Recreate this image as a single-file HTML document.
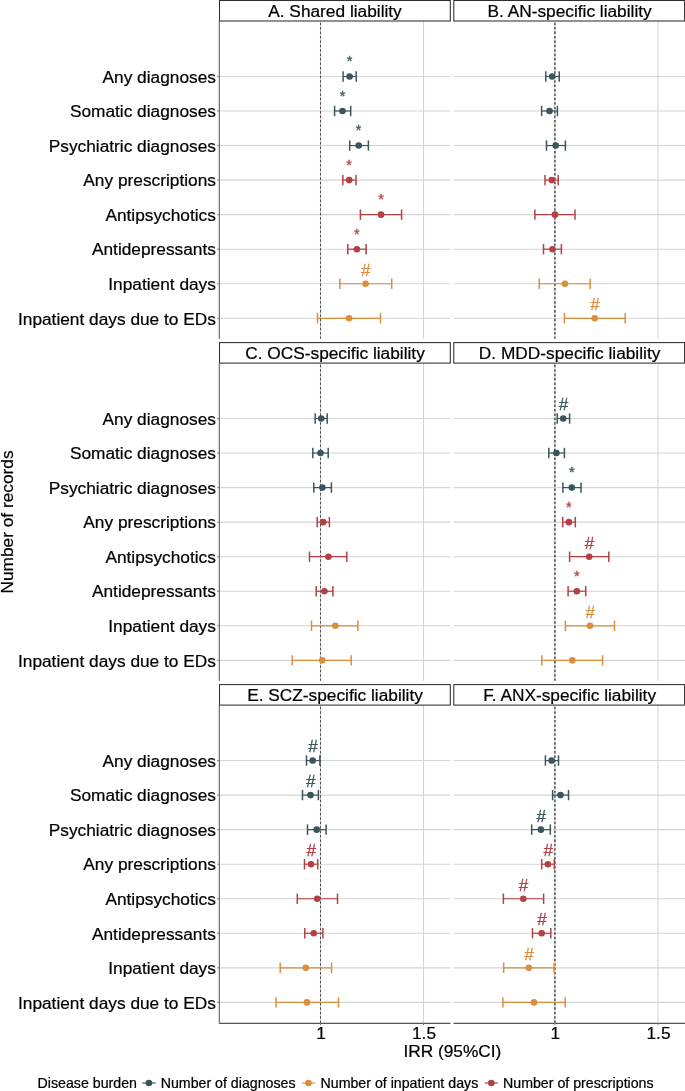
<!DOCTYPE html>
<html lang="en"><head><meta charset="utf-8"><title>Forest plot</title>
<style>html,body{margin:0;padding:0;background:#fff}svg{display:block;will-change:transform}text{font-family:"Liberation Sans",sans-serif;fill:#000;stroke:#000;stroke-width:0.22px}text.a{stroke-width:0.3px}</style></head><body>
<svg width="685" height="1091" viewBox="0 0 685 1091">
<rect width="685" height="1091" fill="#fff"/>
<g>
<line x1="219.3" x2="450.6" y1="76.45" y2="76.45" stroke="#d5d5d5" stroke-width="1.1"/>
<line x1="219.3" x2="450.6" y1="111.00" y2="111.00" stroke="#d5d5d5" stroke-width="1.1"/>
<line x1="219.3" x2="450.6" y1="145.55" y2="145.55" stroke="#d5d5d5" stroke-width="1.1"/>
<line x1="219.3" x2="450.6" y1="180.10" y2="180.10" stroke="#d5d5d5" stroke-width="1.1"/>
<line x1="219.3" x2="450.6" y1="214.65" y2="214.65" stroke="#d5d5d5" stroke-width="1.1"/>
<line x1="219.3" x2="450.6" y1="249.20" y2="249.20" stroke="#d5d5d5" stroke-width="1.1"/>
<line x1="219.3" x2="450.6" y1="283.75" y2="283.75" stroke="#d5d5d5" stroke-width="1.1"/>
<line x1="219.3" x2="450.6" y1="318.30" y2="318.30" stroke="#d5d5d5" stroke-width="1.1"/>
<line x1="423.5" x2="423.5" y1="21.2" y2="338.7" stroke="#d5d5d5" stroke-width="1.1"/>
<line x1="320.5" x2="320.5" y1="21.2" y2="338.7" stroke="#d5d5d5" stroke-width="1.1"/>
<line x1="320.5" x2="320.5" y1="22.7" y2="338.7" stroke="#454545" stroke-width="0.95" stroke-dasharray="2.5 1.92"/>
<g stroke="#3a565c" fill="#3a565c"><line x1="343.1" x2="356.2" y1="76.45" y2="76.45" stroke-width="1.2"/><line x1="343.1" x2="343.1" y1="71.25" y2="81.65" stroke-width="1.5"/><line x1="356.2" x2="356.2" y1="71.25" y2="81.65" stroke-width="1.5"/><circle cx="349.6" cy="76.45" r="3.3" stroke="none"/></g>
<text x="349.6" y="66.05" text-anchor="middle" font-size="14.5" class="a" style="fill:#3a565c;stroke:#3a565c">*</text>
<g stroke="#3a565c" fill="#3a565c"><line x1="334.6" x2="350.7" y1="111.00" y2="111.00" stroke-width="1.2"/><line x1="334.6" x2="334.6" y1="105.80" y2="116.20" stroke-width="1.5"/><line x1="350.7" x2="350.7" y1="105.80" y2="116.20" stroke-width="1.5"/><circle cx="342.5" cy="111.00" r="3.3" stroke="none"/></g>
<text x="342.5" y="100.60" text-anchor="middle" font-size="14.5" class="a" style="fill:#3a565c;stroke:#3a565c">*</text>
<g stroke="#3a565c" fill="#3a565c"><line x1="349.7" x2="368.4" y1="145.55" y2="145.55" stroke-width="1.2"/><line x1="349.7" x2="349.7" y1="140.35" y2="150.75" stroke-width="1.5"/><line x1="368.4" x2="368.4" y1="140.35" y2="150.75" stroke-width="1.5"/><circle cx="358.7" cy="145.55" r="3.3" stroke="none"/></g>
<text x="358.7" y="135.15" text-anchor="middle" font-size="14.5" class="a" style="fill:#3a565c;stroke:#3a565c">*</text>
<g stroke="#b24045" fill="#b24045"><line x1="342.8" x2="356.0" y1="180.10" y2="180.10" stroke-width="1.2"/><line x1="342.8" x2="342.8" y1="174.90" y2="185.30" stroke-width="1.5"/><line x1="356.0" x2="356.0" y1="174.90" y2="185.30" stroke-width="1.5"/><circle cx="349.2" cy="180.10" r="3.3" stroke="none"/></g>
<text x="349.2" y="169.70" text-anchor="middle" font-size="14.5" class="a" style="fill:#b24045;stroke:#b24045">*</text>
<g stroke="#b24045" fill="#b24045"><line x1="360.4" x2="401.6" y1="214.65" y2="214.65" stroke-width="1.2"/><line x1="360.4" x2="360.4" y1="209.45" y2="219.85" stroke-width="1.5"/><line x1="401.6" x2="401.6" y1="209.45" y2="219.85" stroke-width="1.5"/><circle cx="381.0" cy="214.65" r="3.3" stroke="none"/></g>
<text x="381.0" y="204.25" text-anchor="middle" font-size="14.5" class="a" style="fill:#b24045;stroke:#b24045">*</text>
<g stroke="#b24045" fill="#b24045"><line x1="347.8" x2="366.1" y1="249.20" y2="249.20" stroke-width="1.2"/><line x1="347.8" x2="347.8" y1="244.00" y2="254.40" stroke-width="1.5"/><line x1="366.1" x2="366.1" y1="244.00" y2="254.40" stroke-width="1.5"/><circle cx="356.9" cy="249.20" r="3.3" stroke="none"/></g>
<text x="356.9" y="238.80" text-anchor="middle" font-size="14.5" class="a" style="fill:#b24045;stroke:#b24045">*</text>
<g stroke="#da8e40" fill="#da8e40"><line x1="339.8" x2="391.7" y1="283.75" y2="283.75" stroke-width="1.2"/><line x1="339.8" x2="339.8" y1="278.55" y2="288.95" stroke-width="1.5"/><line x1="391.7" x2="391.7" y1="278.55" y2="288.95" stroke-width="1.5"/><circle cx="365.6" cy="283.75" r="3.3" stroke="none"/></g>
<text x="365.85" y="275.65" text-anchor="middle" font-size="17.1" class="a" style="fill:#da8e40;stroke:#da8e40">#</text>
<g stroke="#da8e40" fill="#da8e40"><line x1="317.5" x2="380.5" y1="318.30" y2="318.30" stroke-width="1.2"/><line x1="317.5" x2="317.5" y1="313.10" y2="323.50" stroke-width="1.5"/><line x1="380.5" x2="380.5" y1="313.10" y2="323.50" stroke-width="1.5"/><circle cx="349.0" cy="318.30" r="3.3" stroke="none"/></g>
<rect x="219.5" y="0.5" width="230.8" height="20.5" fill="#fff" stroke="#2e2e2e" stroke-width="1.05"/>
<text x="335.0" y="16.5" text-anchor="middle" font-size="17.3">A. Shared liability</text>
<line x1="219.3" x2="219.3" y1="21.2" y2="338.7" stroke="#5e5e5e" stroke-width="1.1"/>
<line x1="217.3" x2="219.3" y1="76.45" y2="76.45" stroke="#777" stroke-width="1"/>
<text x="215.9" y="82.65" text-anchor="end" font-size="17.3">Any diagnoses</text>
<line x1="217.3" x2="219.3" y1="111.00" y2="111.00" stroke="#777" stroke-width="1"/>
<text x="215.9" y="117.20" text-anchor="end" font-size="17.3">Somatic diagnoses</text>
<line x1="217.3" x2="219.3" y1="145.55" y2="145.55" stroke="#777" stroke-width="1"/>
<text x="215.9" y="151.75" text-anchor="end" font-size="17.3">Psychiatric diagnoses</text>
<line x1="217.3" x2="219.3" y1="180.10" y2="180.10" stroke="#777" stroke-width="1"/>
<text x="215.9" y="186.30" text-anchor="end" font-size="17.3">Any prescriptions</text>
<line x1="217.3" x2="219.3" y1="214.65" y2="214.65" stroke="#777" stroke-width="1"/>
<text x="215.9" y="220.85" text-anchor="end" font-size="17.3">Antipsychotics</text>
<line x1="217.3" x2="219.3" y1="249.20" y2="249.20" stroke="#777" stroke-width="1"/>
<text x="215.9" y="255.40" text-anchor="end" font-size="17.3">Antidepressants</text>
<line x1="217.3" x2="219.3" y1="283.75" y2="283.75" stroke="#777" stroke-width="1"/>
<text x="215.9" y="289.95" text-anchor="end" font-size="17.3">Inpatient days</text>
<line x1="217.3" x2="219.3" y1="318.30" y2="318.30" stroke="#777" stroke-width="1"/>
<text x="215.9" y="324.50" text-anchor="end" font-size="17.3">Inpatient days due to EDs</text>
</g>
<g>
<line x1="454.0" x2="685.3" y1="76.45" y2="76.45" stroke="#d5d5d5" stroke-width="1.1"/>
<line x1="454.0" x2="685.3" y1="111.00" y2="111.00" stroke="#d5d5d5" stroke-width="1.1"/>
<line x1="454.0" x2="685.3" y1="145.55" y2="145.55" stroke="#d5d5d5" stroke-width="1.1"/>
<line x1="454.0" x2="685.3" y1="180.10" y2="180.10" stroke="#d5d5d5" stroke-width="1.1"/>
<line x1="454.0" x2="685.3" y1="214.65" y2="214.65" stroke="#d5d5d5" stroke-width="1.1"/>
<line x1="454.0" x2="685.3" y1="249.20" y2="249.20" stroke="#d5d5d5" stroke-width="1.1"/>
<line x1="454.0" x2="685.3" y1="283.75" y2="283.75" stroke="#d5d5d5" stroke-width="1.1"/>
<line x1="454.0" x2="685.3" y1="318.30" y2="318.30" stroke="#d5d5d5" stroke-width="1.1"/>
<line x1="658.0" x2="658.0" y1="21.2" y2="338.7" stroke="#d5d5d5" stroke-width="1.1"/>
<line x1="554.9" x2="554.9" y1="21.2" y2="338.7" stroke="#d5d5d5" stroke-width="1.1"/>
<line x1="554.9" x2="554.9" y1="22.7" y2="338.7" stroke="#363636" stroke-width="1.25" stroke-dasharray="2.5 1.92"/>
<g stroke="#3a565c" fill="#3a565c"><line x1="545.8" x2="559.2" y1="76.45" y2="76.45" stroke-width="1.2"/><line x1="545.8" x2="545.8" y1="71.25" y2="81.65" stroke-width="1.5"/><line x1="559.2" x2="559.2" y1="71.25" y2="81.65" stroke-width="1.5"/><circle cx="552.2" cy="76.45" r="3.3" stroke="none"/></g>
<g stroke="#3a565c" fill="#3a565c"><line x1="541.6" x2="557.4" y1="111.00" y2="111.00" stroke-width="1.2"/><line x1="541.6" x2="541.6" y1="105.80" y2="116.20" stroke-width="1.5"/><line x1="557.4" x2="557.4" y1="105.80" y2="116.20" stroke-width="1.5"/><circle cx="549.5" cy="111.00" r="3.3" stroke="none"/></g>
<g stroke="#3a565c" fill="#3a565c"><line x1="546.5" x2="565.4" y1="145.55" y2="145.55" stroke-width="1.2"/><line x1="546.5" x2="546.5" y1="140.35" y2="150.75" stroke-width="1.5"/><line x1="565.4" x2="565.4" y1="140.35" y2="150.75" stroke-width="1.5"/><circle cx="555.7" cy="145.55" r="3.3" stroke="none"/></g>
<g stroke="#b24045" fill="#b24045"><line x1="545.0" x2="558.2" y1="180.10" y2="180.10" stroke-width="1.2"/><line x1="545.0" x2="545.0" y1="174.90" y2="185.30" stroke-width="1.5"/><line x1="558.2" x2="558.2" y1="174.90" y2="185.30" stroke-width="1.5"/><circle cx="551.7" cy="180.10" r="3.3" stroke="none"/></g>
<g stroke="#b24045" fill="#b24045"><line x1="534.9" x2="575.0" y1="214.65" y2="214.65" stroke-width="1.2"/><line x1="534.9" x2="534.9" y1="209.45" y2="219.85" stroke-width="1.5"/><line x1="575.0" x2="575.0" y1="209.45" y2="219.85" stroke-width="1.5"/><circle cx="555.0" cy="214.65" r="3.3" stroke="none"/></g>
<g stroke="#b24045" fill="#b24045"><line x1="543.5" x2="561.4" y1="249.20" y2="249.20" stroke-width="1.2"/><line x1="543.5" x2="543.5" y1="244.00" y2="254.40" stroke-width="1.5"/><line x1="561.4" x2="561.4" y1="244.00" y2="254.40" stroke-width="1.5"/><circle cx="552.5" cy="249.20" r="3.3" stroke="none"/></g>
<g stroke="#da8e40" fill="#da8e40"><line x1="539.3" x2="590.2" y1="283.75" y2="283.75" stroke-width="1.2"/><line x1="539.3" x2="539.3" y1="278.55" y2="288.95" stroke-width="1.5"/><line x1="590.2" x2="590.2" y1="278.55" y2="288.95" stroke-width="1.5"/><circle cx="564.9" cy="283.75" r="3.3" stroke="none"/></g>
<g stroke="#da8e40" fill="#da8e40"><line x1="564.4" x2="625.2" y1="318.30" y2="318.30" stroke-width="1.2"/><line x1="564.4" x2="564.4" y1="313.10" y2="323.50" stroke-width="1.5"/><line x1="625.2" x2="625.2" y1="313.10" y2="323.50" stroke-width="1.5"/><circle cx="594.7" cy="318.30" r="3.3" stroke="none"/></g>
<text x="594.95" y="310.20" text-anchor="middle" font-size="17.1" class="a" style="fill:#da8e40;stroke:#da8e40">#</text>
<rect x="453.8" y="0.5" width="230.8" height="20.5" fill="#fff" stroke="#2e2e2e" stroke-width="1.05"/>
<text x="569.6" y="16.5" text-anchor="middle" font-size="17.3">B. AN-specific liability</text>
</g>
<g>
<line x1="219.3" x2="450.6" y1="418.50" y2="418.50" stroke="#d5d5d5" stroke-width="1.1"/>
<line x1="219.3" x2="450.6" y1="453.05" y2="453.05" stroke="#d5d5d5" stroke-width="1.1"/>
<line x1="219.3" x2="450.6" y1="487.60" y2="487.60" stroke="#d5d5d5" stroke-width="1.1"/>
<line x1="219.3" x2="450.6" y1="522.15" y2="522.15" stroke="#d5d5d5" stroke-width="1.1"/>
<line x1="219.3" x2="450.6" y1="556.70" y2="556.70" stroke="#d5d5d5" stroke-width="1.1"/>
<line x1="219.3" x2="450.6" y1="591.25" y2="591.25" stroke="#d5d5d5" stroke-width="1.1"/>
<line x1="219.3" x2="450.6" y1="625.80" y2="625.80" stroke="#d5d5d5" stroke-width="1.1"/>
<line x1="219.3" x2="450.6" y1="660.35" y2="660.35" stroke="#d5d5d5" stroke-width="1.1"/>
<line x1="423.5" x2="423.5" y1="363.2" y2="680.8" stroke="#d5d5d5" stroke-width="1.1"/>
<line x1="320.5" x2="320.5" y1="363.2" y2="680.8" stroke="#d5d5d5" stroke-width="1.1"/>
<line x1="320.5" x2="320.5" y1="364.8" y2="680.8" stroke="#454545" stroke-width="0.95" stroke-dasharray="2.5 1.92"/>
<g stroke="#3a565c" fill="#3a565c"><line x1="315.2" x2="327.2" y1="418.50" y2="418.50" stroke-width="1.2"/><line x1="315.2" x2="315.2" y1="413.30" y2="423.70" stroke-width="1.5"/><line x1="327.2" x2="327.2" y1="413.30" y2="423.70" stroke-width="1.5"/><circle cx="321.2" cy="418.50" r="3.3" stroke="none"/></g>
<g stroke="#3a565c" fill="#3a565c"><line x1="312.8" x2="328.2" y1="453.05" y2="453.05" stroke-width="1.2"/><line x1="312.8" x2="312.8" y1="447.85" y2="458.25" stroke-width="1.5"/><line x1="328.2" x2="328.2" y1="447.85" y2="458.25" stroke-width="1.5"/><circle cx="320.5" cy="453.05" r="3.3" stroke="none"/></g>
<g stroke="#3a565c" fill="#3a565c"><line x1="313.8" x2="331.4" y1="487.60" y2="487.60" stroke-width="1.2"/><line x1="313.8" x2="313.8" y1="482.40" y2="492.80" stroke-width="1.5"/><line x1="331.4" x2="331.4" y1="482.40" y2="492.80" stroke-width="1.5"/><circle cx="322.4" cy="487.60" r="3.3" stroke="none"/></g>
<g stroke="#b24045" fill="#b24045"><line x1="317.2" x2="329.4" y1="522.15" y2="522.15" stroke-width="1.2"/><line x1="317.2" x2="317.2" y1="516.95" y2="527.35" stroke-width="1.5"/><line x1="329.4" x2="329.4" y1="516.95" y2="527.35" stroke-width="1.5"/><circle cx="323.2" cy="522.15" r="3.3" stroke="none"/></g>
<g stroke="#b24045" fill="#b24045"><line x1="309.5" x2="346.8" y1="556.70" y2="556.70" stroke-width="1.2"/><line x1="309.5" x2="309.5" y1="551.50" y2="561.90" stroke-width="1.5"/><line x1="346.8" x2="346.8" y1="551.50" y2="561.90" stroke-width="1.5"/><circle cx="328.4" cy="556.70" r="3.3" stroke="none"/></g>
<g stroke="#b24045" fill="#b24045"><line x1="316.2" x2="332.9" y1="591.25" y2="591.25" stroke-width="1.2"/><line x1="316.2" x2="316.2" y1="586.05" y2="596.45" stroke-width="1.5"/><line x1="332.9" x2="332.9" y1="586.05" y2="596.45" stroke-width="1.5"/><circle cx="324.4" cy="591.25" r="3.3" stroke="none"/></g>
<g stroke="#da8e40" fill="#da8e40"><line x1="311.5" x2="357.9" y1="625.80" y2="625.80" stroke-width="1.2"/><line x1="311.5" x2="311.5" y1="620.60" y2="631.00" stroke-width="1.5"/><line x1="357.9" x2="357.9" y1="620.60" y2="631.00" stroke-width="1.5"/><circle cx="335.3" cy="625.80" r="3.3" stroke="none"/></g>
<g stroke="#da8e40" fill="#da8e40"><line x1="292.2" x2="351.2" y1="660.35" y2="660.35" stroke-width="1.2"/><line x1="292.2" x2="292.2" y1="655.15" y2="665.55" stroke-width="1.5"/><line x1="351.2" x2="351.2" y1="655.15" y2="665.55" stroke-width="1.5"/><circle cx="322.2" cy="660.35" r="3.3" stroke="none"/></g>
<rect x="219.5" y="342.6" width="230.8" height="20.5" fill="#fff" stroke="#2e2e2e" stroke-width="1.05"/>
<text x="335.0" y="358.6" text-anchor="middle" font-size="17.3">C. OCS-specific liability</text>
<line x1="219.3" x2="219.3" y1="363.2" y2="680.8" stroke="#5e5e5e" stroke-width="1.1"/>
<line x1="217.3" x2="219.3" y1="418.50" y2="418.50" stroke="#777" stroke-width="1"/>
<text x="215.9" y="424.70" text-anchor="end" font-size="17.3">Any diagnoses</text>
<line x1="217.3" x2="219.3" y1="453.05" y2="453.05" stroke="#777" stroke-width="1"/>
<text x="215.9" y="459.25" text-anchor="end" font-size="17.3">Somatic diagnoses</text>
<line x1="217.3" x2="219.3" y1="487.60" y2="487.60" stroke="#777" stroke-width="1"/>
<text x="215.9" y="493.80" text-anchor="end" font-size="17.3">Psychiatric diagnoses</text>
<line x1="217.3" x2="219.3" y1="522.15" y2="522.15" stroke="#777" stroke-width="1"/>
<text x="215.9" y="528.35" text-anchor="end" font-size="17.3">Any prescriptions</text>
<line x1="217.3" x2="219.3" y1="556.70" y2="556.70" stroke="#777" stroke-width="1"/>
<text x="215.9" y="562.90" text-anchor="end" font-size="17.3">Antipsychotics</text>
<line x1="217.3" x2="219.3" y1="591.25" y2="591.25" stroke="#777" stroke-width="1"/>
<text x="215.9" y="597.45" text-anchor="end" font-size="17.3">Antidepressants</text>
<line x1="217.3" x2="219.3" y1="625.80" y2="625.80" stroke="#777" stroke-width="1"/>
<text x="215.9" y="632.00" text-anchor="end" font-size="17.3">Inpatient days</text>
<line x1="217.3" x2="219.3" y1="660.35" y2="660.35" stroke="#777" stroke-width="1"/>
<text x="215.9" y="666.55" text-anchor="end" font-size="17.3">Inpatient days due to EDs</text>
</g>
<g>
<line x1="454.0" x2="685.3" y1="418.50" y2="418.50" stroke="#d5d5d5" stroke-width="1.1"/>
<line x1="454.0" x2="685.3" y1="453.05" y2="453.05" stroke="#d5d5d5" stroke-width="1.1"/>
<line x1="454.0" x2="685.3" y1="487.60" y2="487.60" stroke="#d5d5d5" stroke-width="1.1"/>
<line x1="454.0" x2="685.3" y1="522.15" y2="522.15" stroke="#d5d5d5" stroke-width="1.1"/>
<line x1="454.0" x2="685.3" y1="556.70" y2="556.70" stroke="#d5d5d5" stroke-width="1.1"/>
<line x1="454.0" x2="685.3" y1="591.25" y2="591.25" stroke="#d5d5d5" stroke-width="1.1"/>
<line x1="454.0" x2="685.3" y1="625.80" y2="625.80" stroke="#d5d5d5" stroke-width="1.1"/>
<line x1="454.0" x2="685.3" y1="660.35" y2="660.35" stroke="#d5d5d5" stroke-width="1.1"/>
<line x1="658.0" x2="658.0" y1="363.2" y2="680.8" stroke="#d5d5d5" stroke-width="1.1"/>
<line x1="554.9" x2="554.9" y1="363.2" y2="680.8" stroke="#d5d5d5" stroke-width="1.1"/>
<line x1="554.9" x2="554.9" y1="364.8" y2="680.8" stroke="#363636" stroke-width="1.25" stroke-dasharray="2.5 1.92"/>
<g stroke="#3a565c" fill="#3a565c"><line x1="557.2" x2="569.6" y1="418.50" y2="418.50" stroke-width="1.2"/><line x1="557.2" x2="557.2" y1="413.30" y2="423.70" stroke-width="1.5"/><line x1="569.6" x2="569.6" y1="413.30" y2="423.70" stroke-width="1.5"/><circle cx="563.2" cy="418.50" r="3.3" stroke="none"/></g>
<text x="563.45" y="410.40" text-anchor="middle" font-size="17.1" class="a" style="fill:#3a565c;stroke:#3a565c">#</text>
<g stroke="#3a565c" fill="#3a565c"><line x1="548.8" x2="564.4" y1="453.05" y2="453.05" stroke-width="1.2"/><line x1="548.8" x2="548.8" y1="447.85" y2="458.25" stroke-width="1.5"/><line x1="564.4" x2="564.4" y1="447.85" y2="458.25" stroke-width="1.5"/><circle cx="556.4" cy="453.05" r="3.3" stroke="none"/></g>
<g stroke="#3a565c" fill="#3a565c"><line x1="562.9" x2="581.0" y1="487.60" y2="487.60" stroke-width="1.2"/><line x1="562.9" x2="562.9" y1="482.40" y2="492.80" stroke-width="1.5"/><line x1="581.0" x2="581.0" y1="482.40" y2="492.80" stroke-width="1.5"/><circle cx="571.8" cy="487.60" r="3.3" stroke="none"/></g>
<text x="571.8" y="477.20" text-anchor="middle" font-size="14.5" class="a" style="fill:#3a565c;stroke:#3a565c">*</text>
<g stroke="#b24045" fill="#b24045"><line x1="562.7" x2="575.3" y1="522.15" y2="522.15" stroke-width="1.2"/><line x1="562.7" x2="562.7" y1="516.95" y2="527.35" stroke-width="1.5"/><line x1="575.3" x2="575.3" y1="516.95" y2="527.35" stroke-width="1.5"/><circle cx="568.9" cy="522.15" r="3.3" stroke="none"/></g>
<text x="568.9" y="511.75" text-anchor="middle" font-size="14.5" class="a" style="fill:#b24045;stroke:#b24045">*</text>
<g stroke="#b24045" fill="#b24045"><line x1="569.6" x2="608.8" y1="556.70" y2="556.70" stroke-width="1.2"/><line x1="569.6" x2="569.6" y1="551.50" y2="561.90" stroke-width="1.5"/><line x1="608.8" x2="608.8" y1="551.50" y2="561.90" stroke-width="1.5"/><circle cx="589.2" cy="556.70" r="3.3" stroke="none"/></g>
<text x="589.45" y="548.60" text-anchor="middle" font-size="17.1" class="a" style="fill:#b24045;stroke:#b24045">#</text>
<g stroke="#b24045" fill="#b24045"><line x1="568.1" x2="585.7" y1="591.25" y2="591.25" stroke-width="1.2"/><line x1="568.1" x2="568.1" y1="586.05" y2="596.45" stroke-width="1.5"/><line x1="585.7" x2="585.7" y1="586.05" y2="596.45" stroke-width="1.5"/><circle cx="576.8" cy="591.25" r="3.3" stroke="none"/></g>
<text x="576.8" y="580.85" text-anchor="middle" font-size="14.5" class="a" style="fill:#b24045;stroke:#b24045">*</text>
<g stroke="#da8e40" fill="#da8e40"><line x1="565.4" x2="614.5" y1="625.80" y2="625.80" stroke-width="1.2"/><line x1="565.4" x2="565.4" y1="620.60" y2="631.00" stroke-width="1.5"/><line x1="614.5" x2="614.5" y1="620.60" y2="631.00" stroke-width="1.5"/><circle cx="590.0" cy="625.80" r="3.3" stroke="none"/></g>
<text x="590.25" y="617.70" text-anchor="middle" font-size="17.1" class="a" style="fill:#da8e40;stroke:#da8e40">#</text>
<g stroke="#da8e40" fill="#da8e40"><line x1="541.8" x2="602.6" y1="660.35" y2="660.35" stroke-width="1.2"/><line x1="541.8" x2="541.8" y1="655.15" y2="665.55" stroke-width="1.5"/><line x1="602.6" x2="602.6" y1="655.15" y2="665.55" stroke-width="1.5"/><circle cx="572.3" cy="660.35" r="3.3" stroke="none"/></g>
<rect x="453.8" y="342.6" width="230.8" height="20.5" fill="#fff" stroke="#2e2e2e" stroke-width="1.05"/>
<text x="569.6" y="358.6" text-anchor="middle" font-size="17.3">D. MDD-specific liability</text>
</g>
<g>
<line x1="219.3" x2="450.6" y1="760.55" y2="760.55" stroke="#d5d5d5" stroke-width="1.1"/>
<line x1="219.3" x2="450.6" y1="795.10" y2="795.10" stroke="#d5d5d5" stroke-width="1.1"/>
<line x1="219.3" x2="450.6" y1="829.65" y2="829.65" stroke="#d5d5d5" stroke-width="1.1"/>
<line x1="219.3" x2="450.6" y1="864.20" y2="864.20" stroke="#d5d5d5" stroke-width="1.1"/>
<line x1="219.3" x2="450.6" y1="898.75" y2="898.75" stroke="#d5d5d5" stroke-width="1.1"/>
<line x1="219.3" x2="450.6" y1="933.30" y2="933.30" stroke="#d5d5d5" stroke-width="1.1"/>
<line x1="219.3" x2="450.6" y1="967.85" y2="967.85" stroke="#d5d5d5" stroke-width="1.1"/>
<line x1="219.3" x2="450.6" y1="1002.40" y2="1002.40" stroke="#d5d5d5" stroke-width="1.1"/>
<line x1="423.5" x2="423.5" y1="705.3" y2="1022.8" stroke="#d5d5d5" stroke-width="1.1"/>
<line x1="320.5" x2="320.5" y1="705.3" y2="1022.8" stroke="#d5d5d5" stroke-width="1.1"/>
<line x1="320.5" x2="320.5" y1="706.8" y2="1022.8" stroke="#454545" stroke-width="0.95" stroke-dasharray="2.5 1.92"/>
<g stroke="#3a565c" fill="#3a565c"><line x1="306.5" x2="319.9" y1="760.55" y2="760.55" stroke-width="1.2"/><line x1="306.5" x2="306.5" y1="755.35" y2="765.75" stroke-width="1.5"/><line x1="319.9" x2="319.9" y1="755.35" y2="765.75" stroke-width="1.5"/><circle cx="312.7" cy="760.55" r="3.3" stroke="none"/></g>
<text x="312.95" y="752.45" text-anchor="middle" font-size="17.1" class="a" style="fill:#3a565c;stroke:#3a565c">#</text>
<g stroke="#3a565c" fill="#3a565c"><line x1="302.5" x2="318.4" y1="795.10" y2="795.10" stroke-width="1.2"/><line x1="302.5" x2="302.5" y1="789.90" y2="800.30" stroke-width="1.5"/><line x1="318.4" x2="318.4" y1="789.90" y2="800.30" stroke-width="1.5"/><circle cx="310.5" cy="795.10" r="3.3" stroke="none"/></g>
<text x="310.75" y="787.00" text-anchor="middle" font-size="17.1" class="a" style="fill:#3a565c;stroke:#3a565c">#</text>
<g stroke="#3a565c" fill="#3a565c"><line x1="307.5" x2="326.1" y1="829.65" y2="829.65" stroke-width="1.2"/><line x1="307.5" x2="307.5" y1="824.45" y2="834.85" stroke-width="1.5"/><line x1="326.1" x2="326.1" y1="824.45" y2="834.85" stroke-width="1.5"/><circle cx="316.7" cy="829.65" r="3.3" stroke="none"/></g>
<g stroke="#b24045" fill="#b24045"><line x1="304.5" x2="317.7" y1="864.20" y2="864.20" stroke-width="1.2"/><line x1="304.5" x2="304.5" y1="859.00" y2="869.40" stroke-width="1.5"/><line x1="317.7" x2="317.7" y1="859.00" y2="869.40" stroke-width="1.5"/><circle cx="311.0" cy="864.20" r="3.3" stroke="none"/></g>
<text x="311.25" y="856.10" text-anchor="middle" font-size="17.1" class="a" style="fill:#b24045;stroke:#b24045">#</text>
<g stroke="#b24045" fill="#b24045"><line x1="297.3" x2="337.5" y1="898.75" y2="898.75" stroke-width="1.2"/><line x1="297.3" x2="297.3" y1="893.55" y2="903.95" stroke-width="1.5"/><line x1="337.5" x2="337.5" y1="893.55" y2="903.95" stroke-width="1.5"/><circle cx="317.2" cy="898.75" r="3.3" stroke="none"/></g>
<g stroke="#b24045" fill="#b24045"><line x1="304.8" x2="322.9" y1="933.30" y2="933.30" stroke-width="1.2"/><line x1="304.8" x2="304.8" y1="928.10" y2="938.50" stroke-width="1.5"/><line x1="322.9" x2="322.9" y1="928.10" y2="938.50" stroke-width="1.5"/><circle cx="313.7" cy="933.30" r="3.3" stroke="none"/></g>
<g stroke="#da8e40" fill="#da8e40"><line x1="280.2" x2="331.6" y1="967.85" y2="967.85" stroke-width="1.2"/><line x1="280.2" x2="280.2" y1="962.65" y2="973.05" stroke-width="1.5"/><line x1="331.6" x2="331.6" y1="962.65" y2="973.05" stroke-width="1.5"/><circle cx="305.8" cy="967.85" r="3.3" stroke="none"/></g>
<g stroke="#da8e40" fill="#da8e40"><line x1="276.0" x2="338.5" y1="1002.40" y2="1002.40" stroke-width="1.2"/><line x1="276.0" x2="276.0" y1="997.20" y2="1007.60" stroke-width="1.5"/><line x1="338.5" x2="338.5" y1="997.20" y2="1007.60" stroke-width="1.5"/><circle cx="307.0" cy="1002.40" r="3.3" stroke="none"/></g>
<rect x="219.5" y="684.6" width="230.8" height="20.5" fill="#fff" stroke="#2e2e2e" stroke-width="1.05"/>
<text x="335.0" y="700.6" text-anchor="middle" font-size="17.3">E. SCZ-specific liability</text>
<line x1="219.3" x2="219.3" y1="705.3" y2="1022.8" stroke="#5e5e5e" stroke-width="1.1"/>
<line x1="217.3" x2="219.3" y1="760.55" y2="760.55" stroke="#777" stroke-width="1"/>
<text x="215.9" y="766.75" text-anchor="end" font-size="17.3">Any diagnoses</text>
<line x1="217.3" x2="219.3" y1="795.10" y2="795.10" stroke="#777" stroke-width="1"/>
<text x="215.9" y="801.30" text-anchor="end" font-size="17.3">Somatic diagnoses</text>
<line x1="217.3" x2="219.3" y1="829.65" y2="829.65" stroke="#777" stroke-width="1"/>
<text x="215.9" y="835.85" text-anchor="end" font-size="17.3">Psychiatric diagnoses</text>
<line x1="217.3" x2="219.3" y1="864.20" y2="864.20" stroke="#777" stroke-width="1"/>
<text x="215.9" y="870.40" text-anchor="end" font-size="17.3">Any prescriptions</text>
<line x1="217.3" x2="219.3" y1="898.75" y2="898.75" stroke="#777" stroke-width="1"/>
<text x="215.9" y="904.95" text-anchor="end" font-size="17.3">Antipsychotics</text>
<line x1="217.3" x2="219.3" y1="933.30" y2="933.30" stroke="#777" stroke-width="1"/>
<text x="215.9" y="939.50" text-anchor="end" font-size="17.3">Antidepressants</text>
<line x1="217.3" x2="219.3" y1="967.85" y2="967.85" stroke="#777" stroke-width="1"/>
<text x="215.9" y="974.05" text-anchor="end" font-size="17.3">Inpatient days</text>
<line x1="217.3" x2="219.3" y1="1002.40" y2="1002.40" stroke="#777" stroke-width="1"/>
<text x="215.9" y="1008.60" text-anchor="end" font-size="17.3">Inpatient days due to EDs</text>
<line x1="218.8" x2="450.6" y1="1023.4" y2="1023.4" stroke="#555" stroke-width="1.1"/>
<line x1="320.5" x2="320.5" y1="1022.8" y2="1025.1" stroke="#777" stroke-width="1"/>
<text x="321.0" y="1038.6" text-anchor="middle" font-size="17.3">1</text>
<line x1="423.5" x2="423.5" y1="1022.8" y2="1025.1" stroke="#777" stroke-width="1"/>
<text x="424.0" y="1038.6" text-anchor="middle" font-size="17.3">1.5</text>
</g>
<g>
<line x1="454.0" x2="685.3" y1="760.55" y2="760.55" stroke="#d5d5d5" stroke-width="1.1"/>
<line x1="454.0" x2="685.3" y1="795.10" y2="795.10" stroke="#d5d5d5" stroke-width="1.1"/>
<line x1="454.0" x2="685.3" y1="829.65" y2="829.65" stroke="#d5d5d5" stroke-width="1.1"/>
<line x1="454.0" x2="685.3" y1="864.20" y2="864.20" stroke="#d5d5d5" stroke-width="1.1"/>
<line x1="454.0" x2="685.3" y1="898.75" y2="898.75" stroke="#d5d5d5" stroke-width="1.1"/>
<line x1="454.0" x2="685.3" y1="933.30" y2="933.30" stroke="#d5d5d5" stroke-width="1.1"/>
<line x1="454.0" x2="685.3" y1="967.85" y2="967.85" stroke="#d5d5d5" stroke-width="1.1"/>
<line x1="454.0" x2="685.3" y1="1002.40" y2="1002.40" stroke="#d5d5d5" stroke-width="1.1"/>
<line x1="658.0" x2="658.0" y1="705.3" y2="1022.8" stroke="#d5d5d5" stroke-width="1.1"/>
<line x1="554.9" x2="554.9" y1="705.3" y2="1022.8" stroke="#d5d5d5" stroke-width="1.1"/>
<line x1="554.9" x2="554.9" y1="706.8" y2="1022.8" stroke="#363636" stroke-width="1.25" stroke-dasharray="2.5 1.92"/>
<g stroke="#3a565c" fill="#3a565c"><line x1="545.4" x2="558.5" y1="760.55" y2="760.55" stroke-width="1.2"/><line x1="545.4" x2="545.4" y1="755.35" y2="765.75" stroke-width="1.5"/><line x1="558.5" x2="558.5" y1="755.35" y2="765.75" stroke-width="1.5"/><circle cx="551.6" cy="760.55" r="3.3" stroke="none"/></g>
<g stroke="#3a565c" fill="#3a565c"><line x1="552.6" x2="568.5" y1="795.10" y2="795.10" stroke-width="1.2"/><line x1="552.6" x2="552.6" y1="789.90" y2="800.30" stroke-width="1.5"/><line x1="568.5" x2="568.5" y1="789.90" y2="800.30" stroke-width="1.5"/><circle cx="560.5" cy="795.10" r="3.3" stroke="none"/></g>
<g stroke="#3a565c" fill="#3a565c"><line x1="531.7" x2="550.3" y1="829.65" y2="829.65" stroke-width="1.2"/><line x1="531.7" x2="531.7" y1="824.45" y2="834.85" stroke-width="1.5"/><line x1="550.3" x2="550.3" y1="824.45" y2="834.85" stroke-width="1.5"/><circle cx="540.9" cy="829.65" r="3.3" stroke="none"/></g>
<text x="541.15" y="821.55" text-anchor="middle" font-size="17.1" class="a" style="fill:#3a565c;stroke:#3a565c">#</text>
<g stroke="#b24045" fill="#b24045"><line x1="541.7" x2="554.3" y1="864.20" y2="864.20" stroke-width="1.2"/><line x1="541.7" x2="541.7" y1="859.00" y2="869.40" stroke-width="1.5"/><line x1="554.3" x2="554.3" y1="859.00" y2="869.40" stroke-width="1.5"/><circle cx="547.9" cy="864.20" r="3.3" stroke="none"/></g>
<text x="548.15" y="856.10" text-anchor="middle" font-size="17.1" class="a" style="fill:#b24045;stroke:#b24045">#</text>
<g stroke="#b24045" fill="#b24045"><line x1="503.4" x2="543.6" y1="898.75" y2="898.75" stroke-width="1.2"/><line x1="503.4" x2="503.4" y1="893.55" y2="903.95" stroke-width="1.5"/><line x1="543.6" x2="543.6" y1="893.55" y2="903.95" stroke-width="1.5"/><circle cx="523.3" cy="898.75" r="3.3" stroke="none"/></g>
<text x="523.55" y="890.65" text-anchor="middle" font-size="17.1" class="a" style="fill:#b24045;stroke:#b24045">#</text>
<g stroke="#b24045" fill="#b24045"><line x1="532.5" x2="550.8" y1="933.30" y2="933.30" stroke-width="1.2"/><line x1="532.5" x2="532.5" y1="928.10" y2="938.50" stroke-width="1.5"/><line x1="550.8" x2="550.8" y1="928.10" y2="938.50" stroke-width="1.5"/><circle cx="541.7" cy="933.30" r="3.3" stroke="none"/></g>
<text x="541.95" y="925.20" text-anchor="middle" font-size="17.1" class="a" style="fill:#b24045;stroke:#b24045">#</text>
<g stroke="#da8e40" fill="#da8e40"><line x1="503.7" x2="554.1" y1="967.85" y2="967.85" stroke-width="1.2"/><line x1="503.7" x2="503.7" y1="962.65" y2="973.05" stroke-width="1.5"/><line x1="554.1" x2="554.1" y1="962.65" y2="973.05" stroke-width="1.5"/><circle cx="528.8" cy="967.85" r="3.3" stroke="none"/></g>
<text x="529.05" y="959.75" text-anchor="middle" font-size="17.1" class="a" style="fill:#da8e40;stroke:#da8e40">#</text>
<g stroke="#da8e40" fill="#da8e40"><line x1="502.9" x2="565.2" y1="1002.40" y2="1002.40" stroke-width="1.2"/><line x1="502.9" x2="502.9" y1="997.20" y2="1007.60" stroke-width="1.5"/><line x1="565.2" x2="565.2" y1="997.20" y2="1007.60" stroke-width="1.5"/><circle cx="534.0" cy="1002.40" r="3.3" stroke="none"/></g>
<rect x="453.8" y="684.6" width="230.8" height="20.5" fill="#fff" stroke="#2e2e2e" stroke-width="1.05"/>
<text x="569.6" y="700.6" text-anchor="middle" font-size="17.3">F. ANX-specific liability</text>
<line x1="453.5" x2="685.3" y1="1023.4" y2="1023.4" stroke="#555" stroke-width="1.1"/>
<line x1="554.9" x2="554.9" y1="1022.8" y2="1025.1" stroke="#777" stroke-width="1"/>
<text x="555.4" y="1038.6" text-anchor="middle" font-size="17.3">1</text>
<line x1="658.0" x2="658.0" y1="1022.8" y2="1025.1" stroke="#777" stroke-width="1"/>
<text x="658.5" y="1038.6" text-anchor="middle" font-size="17.3">1.5</text>
</g>
<text x="452.4" y="1057" text-anchor="middle" font-size="17.3">IRR (95%CI)</text>
<text transform="translate(12.8,522) rotate(-90)" text-anchor="middle" font-size="17.3">Number of records</text>
<text x="37.6" y="1088" font-size="14.2">Disease burden</text>
<g stroke="#3a565c" fill="#3a565c"><line x1="142.3" x2="155.5" y1="1083" y2="1083" stroke-width="1.2"/><circle cx="148.9" cy="1083" r="3.3" stroke="none"/></g>
<text x="160.7" y="1088" font-size="14.2">Number of diagnoses</text>
<g stroke="#da8e40" fill="#da8e40"><line x1="301.9" x2="315.1" y1="1083" y2="1083" stroke-width="1.2"/><circle cx="308.5" cy="1083" r="3.3" stroke="none"/></g>
<text x="320.5" y="1088" font-size="14.2">Number of inpatient days</text>
<g stroke="#b24045" fill="#b24045"><line x1="484.7" x2="497.90000000000003" y1="1083" y2="1083" stroke-width="1.2"/><circle cx="491.3" cy="1083" r="3.3" stroke="none"/></g>
<text x="503" y="1088" font-size="14.2">Number of prescriptions</text>
</svg></body></html>
